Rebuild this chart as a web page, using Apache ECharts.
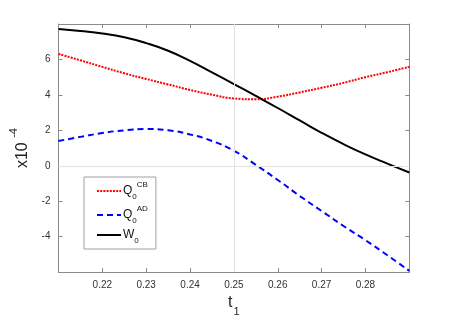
<!DOCTYPE html>
<html>
<head>
<meta charset="UTF-8">
<title>Q0 / W0</title>
<style>
html, body { margin: 0; padding: 0; background: #fff; }
#main { width: 452px; height: 322px; }
</style>
</head>
<body>
<div id="main"></div>
<script src="https://cdn.jsdelivr.net/npm/echarts@6/dist/echarts.min.js"></script>
<script>
// t1 values (x axis)
var t1 = [0.21, 0.215, 0.22, 0.225, 0.23, 0.235, 0.24, 0.245, 0.25,
          0.255, 0.26, 0.265, 0.27, 0.275, 0.28, 0.285, 0.29];
// values in units of 1e-4
var qCB = [6.31, 5.95, 5.58, 5.22, 4.90, 4.59, 4.28, 4.01, 3.80,
           3.75, 3.90, 4.14, 4.40, 4.68, 5.00, 5.28, 5.58];
var qAD = [1.40, 1.63, 1.85, 2.00, 2.07, 2.00, 1.77, 1.40, 0.85,
           0.05, -0.80, -1.70, -2.55, -3.40, -4.20, -5.05, -5.93];
var w0  = [7.72, 7.60, 7.46, 7.25, 6.92, 6.49, 5.92, 5.27, 4.61,
           3.94, 3.26, 2.56, 1.86, 1.22, 0.64, 0.12, -0.38];

var xTicks = { min: 0.21, max: 0.29, step: 0.01 };
var yTicks = { min: -6, max: 8, step: 2 };

function pairs(xs, ys) {
	var out = [];
	for (var i = 0; i < xs.length; i++) out.push([xs[i], ys[i]]);
	return out;
}

var font = 'Liberation Sans, Arial, sans-serif';
var axisGray = '#8a8a8a';

var xLabel = function (v) {
	if (Math.abs(v - xTicks.min) < 1e-6 || Math.abs(v - xTicks.max) < 1e-6) return '';
	return v.toFixed(2);
};
var yLabel = function (v) {
	if (v === yTicks.min || v === yTicks.max) return '';
	return String(v);
};

var myChart = echarts.init(document.getElementById('main'));
var option = {
	animation: false,
	backgroundColor: '#fff',
	grid: { left: 58.5, right: 42.7, top: 24, bottom: 40.3 },
	legend: {
		orient: 'vertical',
		left: 84, top: 177,
		padding: [4, 8, 4, 12],
		itemGap: 4,
		itemWidth: 24,
		itemHeight: 10,
		borderColor: '#a0a0a0',
		borderWidth: 1,
		backgroundColor: '#fff',
		itemStyle: { opacity: 0 },
		data: ['QCB', 'QAD', 'W0'],
		formatter: function (name) {
			if (name === 'QCB') return '{m|Q}{sub|0}{sup|CB}';
			if (name === 'QAD') return '{m|Q}{sub|0}{sup|AD}';
			return '{m|W}{sub|0}';
		},
		textStyle: {
			fontFamily: font, color: '#111', padding: [0, 0, 0, -3],
			rich: {
				m: { fontSize: 12, fontFamily: font, color: '#111', lineHeight: 20, verticalAlign: 'middle' },
				sub: { fontSize: 8, fontFamily: font, color: '#111', lineHeight: 20, verticalAlign: 'bottom' },
				sup: { fontSize: 8, fontFamily: font, color: '#111', lineHeight: 20, verticalAlign: 'top' }
			}
		}
	},
	xAxis: [{
		type: 'value',
		min: xTicks.min, max: xTicks.max, interval: xTicks.step,
		name: '{t|t}{s|1}',
		nameLocation: 'middle',
		nameGap: 22,
		nameTextStyle: {
			rich: {
				t: { fontSize: 16, fontFamily: font, color: '#222', lineHeight: 22, verticalAlign: 'top' },
				s: { fontSize: 11, fontFamily: font, color: '#222', lineHeight: 22, verticalAlign: 'bottom', padding: [10, 0, 0, 1] }
			}
		},
		axisLine: { onZero: false, lineStyle: { color: axisGray, width: 1 } },
		axisTick: { inside: true, length: 4, lineStyle: { color: axisGray } },
		axisLabel: { formatter: xLabel, fontSize: 10, fontFamily: font, color: '#333', margin: 8 },
		splitLine: { show: false }
	}, {
		type: 'value', position: 'top',
		min: xTicks.min, max: xTicks.max, interval: xTicks.step,
		axisLine: { onZero: false, lineStyle: { color: axisGray, width: 1 } },
		axisTick: { inside: true, length: 4, lineStyle: { color: axisGray } },
		axisLabel: { show: false },
		splitLine: { show: false }
	}],
	yAxis: [{
		type: 'value',
		min: yTicks.min, max: yTicks.max, interval: yTicks.step,
		name: '{a|x10 }{b|-4}',
		nameLocation: 'middle',
		nameGap: 9,
		nameRotate: 90,
		nameTextStyle: {
			rich: {
				a: { fontSize: 16, fontFamily: font, color: '#222', lineHeight: 22, verticalAlign: 'bottom' },
				b: { fontSize: 11, fontFamily: font, color: '#222', lineHeight: 22, verticalAlign: 'top' }
			}
		},
		axisLine: { show: true, onZero: false, lineStyle: { color: axisGray, width: 1 } },
		axisTick: { show: true, inside: true, length: 4, lineStyle: { color: axisGray } },
		axisLabel: { formatter: yLabel, fontSize: 10, fontFamily: font, color: '#333', margin: 8 },
		splitLine: { show: false }
	}, {
		type: 'value', position: 'right',
		min: yTicks.min, max: yTicks.max, interval: yTicks.step,
		axisLine: { show: true, onZero: false, lineStyle: { color: axisGray, width: 1 } },
		axisTick: { show: true, inside: true, length: 4, lineStyle: { color: axisGray } },
		axisLabel: { show: false },
		splitLine: { show: false }
	}],
	series: [{
		name: 'QCB', type: 'line', smooth: 0.5, symbol: 'none',
		data: pairs(t1, qCB),
		color: '#ff0000',
		lineStyle: { color: '#ff0000', width: 2, type: [2, 1.2] },
		markLine: {
			silent: true, symbol: 'none', label: { show: false },
			lineStyle: { color: '#e2e2e2', width: 1, type: 'solid' },
			data: [{ xAxis: 0.25 }, { yAxis: 0 }]
		},
		z: 3
	}, {
		name: 'QAD', type: 'line', smooth: 0.5, symbol: 'none',
		data: pairs(t1, qAD),
		color: '#0000ff',
		lineStyle: { color: '#0000ff', width: 2, type: [6, 4] },
		z: 3
	}, {
		name: 'W0', type: 'line', smooth: 0.5, symbol: 'none',
		data: pairs(t1, w0),
		color: '#000000',
		lineStyle: { color: '#000000', width: 2 },
		z: 3
	}]
};
myChart.setOption(option);
</script>
</body>
</html>
